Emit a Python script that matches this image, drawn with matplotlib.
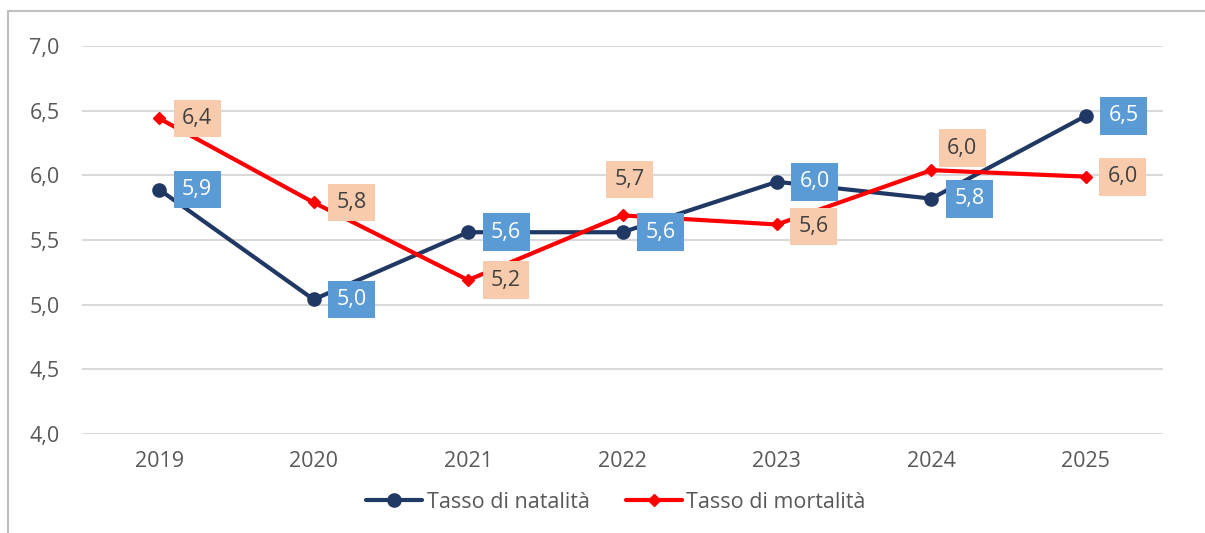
import matplotlib
matplotlib.use("Agg")
import matplotlib.pyplot as plt
from matplotlib.patches import Rectangle

# =============================================================
# DATA
# =============================================================
years      = ["2019", "2020", "2021", "2022", "2023", "2024", "2025"]
natalita   = [5.89, 5.04, 5.56, 5.56, 5.95, 5.82, 6.46]
mortalita  = [6.44, 5.79, 5.19, 5.69, 5.62, 6.04, 5.99]
y_ticks    = [4.0, 4.5, 5.0, 5.5, 6.0, 6.5, 7.0]
legend_lbl = ["Tasso di natalità", "Tasso di mortalità"]

# label offsets in pixels (dx, dy), dy positive = up
NAT_OFFS  = [(38, 0)] * 7
MORT_OFFS = [(38, 0), (38, 0), (38, 0), (7, 36), (37, -2), (31, 22), (37, 0)]

# =============================================================
# STYLE
# =============================================================
NAVY  = "#203864"
RED   = "#FF0000"
BLUE  = "#5B9BD5"
PEACH = "#F8CBAD"
GREY  = "#595959"
FS    = 15.5

plt.rcParams["font.family"] = ["Open Sans", "DejaVu Sans"]

def fmt(v):
    return f"{v:.1f}".replace(".", ",")

fig = plt.figure(figsize=(12.05, 5.33), dpi=100)
ax = fig.add_axes([82 / 1205, 1 - 434 / 533, (1163 - 82) / 1205, (434 - 46) / 533])

x = list(range(len(years)))
l1, = ax.plot(x, natalita, color=NAVY, lw=3.0, marker="o", ms=9.5,
              solid_capstyle="round", zorder=3)
l2, = ax.plot(x, mortalita, color=RED, lw=3.0, marker="D", ms=6.5,
              solid_capstyle="round", zorder=4)

# data labels
for xi, v, (dx, dy) in zip(x, natalita, NAT_OFFS):
    ax.annotate(fmt(v), (xi, v), xytext=(dx, dy), textcoords="offset pixels",
                ha="center", va="center", fontsize=FS, color="white", zorder=6,
                bbox=dict(boxstyle="square,pad=0.39", fc=BLUE, ec="none"))
for xi, v, (dx, dy) in zip(x, mortalita, MORT_OFFS):
    ax.annotate(fmt(v), (xi, v), xytext=(dx, dy), textcoords="offset pixels",
                ha="center", va="center", fontsize=FS, color="#404040", zorder=6,
                bbox=dict(boxstyle="square,pad=0.39", fc=PEACH, ec="none"))

ax.set_xlim(-0.5, len(years) - 0.5)
ax.set_ylim(4.0, 7.0)
ax.set_yticks(y_ticks)
ax.set_yticklabels([fmt(t) for t in y_ticks])
ax.set_xticks(x)
ax.set_xticklabels(years)
ax.tick_params(axis="both", length=0, labelsize=FS, labelcolor=GREY)
ax.tick_params(axis="y", pad=16)
ax.tick_params(axis="x", pad=12)
ax.grid(axis="y", color="#D9D9D9", lw=1.5)
ax.set_axisbelow(True)
for s in ax.spines.values():
    s.set_visible(False)

leg = fig.legend([l1, l2], legend_lbl, loc="center", bbox_to_anchor=(616 / 1205, 1 - 502 / 533),
                 ncol=2, frameon=False, fontsize=FS, handlelength=2.6,
                 handletextpad=0.2, columnspacing=1.7, numpoints=1)
for t in leg.get_texts():
    t.set_color(GREY)

# outer chart border (cut off at right and bottom)
fig.patches.append(Rectangle((8 / 1205, -0.2), 1.2, 1.2 - 11 / 533,
                             transform=fig.transFigure, fill=False,
                             ec="#BFBFBF", lw=1.5))

fig.savefig("out.png", dpi=100)
